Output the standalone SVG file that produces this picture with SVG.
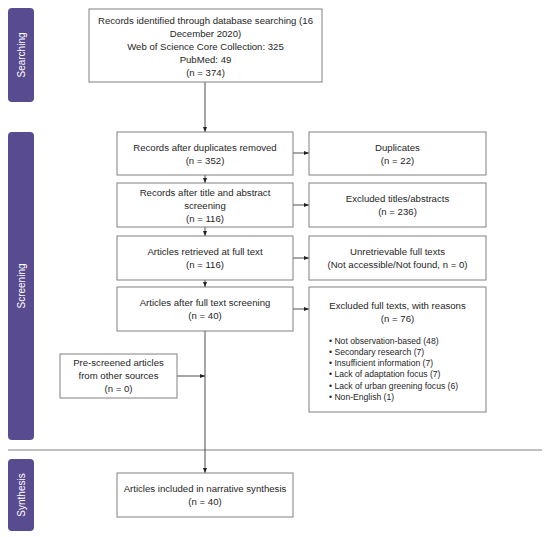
<svg xmlns="http://www.w3.org/2000/svg" width="550" height="537" viewBox="0 0 550 537">
<defs>
<marker id="ah" markerWidth="5" markerHeight="4" refX="5" refY="2" orient="auto" markerUnits="userSpaceOnUse">
<path d="M0,0 L5,2 L0,4 Z" fill="#222"/>
</marker>
<style>
.box{fill:#fff;stroke:#808080;stroke-width:1}
.t{font-family:"Liberation Sans",Arial,sans-serif;font-size:9.6px;fill:#262626;text-anchor:middle}
.b{font-family:"Liberation Sans",Arial,sans-serif;font-size:8.6px;fill:#262626}
.bar{fill:#584b8f}
.bl{font-family:"Liberation Sans",Arial,sans-serif;font-size:10px;fill:#fff;text-anchor:middle}
.c{stroke:#222;stroke-width:0.8;fill:none}
</style>
</defs>
<rect width="550" height="537" fill="#fff"/>
<g id="bars">
<rect class="bar" x="8" y="8" width="26" height="94" rx="4"/>
<text class="bl" transform="translate(25,55) rotate(-90)">Searching</text>
<rect class="bar" x="8" y="132" width="26" height="308" rx="4"/>
<text class="bl" transform="translate(25,286) rotate(-90)">Screening</text>
<rect class="bar" x="8" y="459" width="26" height="72" rx="4"/>
<text class="bl" transform="translate(25,495) rotate(-90)">Synthesis</text>
</g>
<line x1="8" y1="450" x2="542" y2="450" stroke="#c0c0c0" stroke-width="2"/>
<g id="connectors">
<line class="c" x1="205" y1="82" x2="205" y2="132" marker-end="url(#ah)"/>
<line class="c" x1="205" y1="175" x2="205" y2="183" marker-end="url(#ah)"/>
<line class="c" x1="205" y1="227" x2="205" y2="236" marker-end="url(#ah)"/>
<line class="c" x1="205" y1="280" x2="205" y2="287" marker-end="url(#ah)"/>
<line class="c" x1="205" y1="331" x2="205" y2="473" marker-end="url(#ah)"/>
<line class="c" x1="293" y1="153" x2="309" y2="153" marker-end="url(#ah)"/>
<line class="c" x1="293" y1="205" x2="309" y2="205" marker-end="url(#ah)"/>
<line class="c" x1="293" y1="258" x2="309" y2="258" marker-end="url(#ah)"/>
<line class="c" x1="293" y1="309" x2="309" y2="309" marker-end="url(#ah)"/>
<line class="c" x1="177" y1="376" x2="205" y2="376" marker-end="url(#ah)"/>
</g>
<g id="n1">
<rect class="box" x="89" y="9" width="233" height="73"/>
<text class="t" x="205.5" y="24">Records identified through database searching (16</text>
<text class="t" x="205.5" y="37">December 2020)</text>
<text class="t" x="205.5" y="50">Web of Science Core Collection: 325</text>
<text class="t" x="205.5" y="63">PubMed: 49</text>
<text class="t" x="205.5" y="76">(n = 374)</text>
</g>
<g id="n2">
<rect class="box" x="117" y="132" width="176" height="43"/>
<text class="t" x="205" y="151">Records after duplicates removed</text>
<text class="t" x="205" y="164">(n = 352)</text>
</g>
<g id="n3">
<rect class="box" x="117" y="183" width="176" height="44"/>
<text class="t" x="205" y="196">Records after title and abstract</text>
<text class="t" x="205" y="209">screening</text>
<text class="t" x="205" y="222">(n = 116)</text>
</g>
<g id="n4">
<rect class="box" x="117" y="236" width="176" height="44"/>
<text class="t" x="205" y="255">Articles retrieved at full text</text>
<text class="t" x="205" y="268">(n = 116)</text>
</g>
<g id="n5">
<rect class="box" x="117" y="287" width="176" height="44"/>
<text class="t" x="205" y="306">Articles after full text screening</text>
<text class="t" x="205" y="319">(n = 40)</text>
</g>
<g id="r1">
<rect class="box" x="309" y="132" width="177" height="43"/>
<text class="t" x="397.5" y="151">Duplicates</text>
<text class="t" x="397.5" y="164">(n = 22)</text>
</g>
<g id="r2">
<rect class="box" x="309" y="183" width="177" height="44"/>
<text class="t" x="397.5" y="202">Excluded titles/abstracts</text>
<text class="t" x="397.5" y="215">(n = 236)</text>
</g>
<g id="r3">
<rect class="box" x="309" y="236" width="177" height="44"/>
<text class="t" x="397.5" y="255">Unretrievable full texts</text>
<text class="t" x="397.5" y="268">(Not accessible/Not found, n = 0)</text>
</g>
<g id="r4">
<rect class="box" x="309" y="287" width="177" height="125"/>
<text class="t" x="397.5" y="309">Excluded full texts, with reasons</text>
<text class="t" x="397.5" y="322">(n = 76)</text>
<text class="b" x="329" y="344">• Not observation-based  (48)</text>
<text class="b" x="329" y="355">• Secondary research (7)</text>
<text class="b" x="329" y="366">• Insufficient information (7)</text>
<text class="b" x="329" y="377">• Lack of adaptation focus (7)</text>
<text class="b" x="329" y="389">• Lack of urban greening focus (6)</text>
<text class="b" x="329" y="400">• Non-English (1)</text>
</g>
<g id="p1">
<rect class="box" x="60" y="354" width="117" height="44"/>
<text class="t" x="118.5" y="366">Pre-screened articles</text>
<text class="t" x="118.5" y="379">from other sources</text>
<text class="t" x="118.5" y="392">(n = 0)</text>
</g>
<g id="n6">
<rect class="box" x="117" y="473" width="176" height="44"/>
<text class="t" x="205" y="492">Articles included in narrative synthesis</text>
<text class="t" x="205" y="505">(n = 40)</text>
</g>
</svg>
